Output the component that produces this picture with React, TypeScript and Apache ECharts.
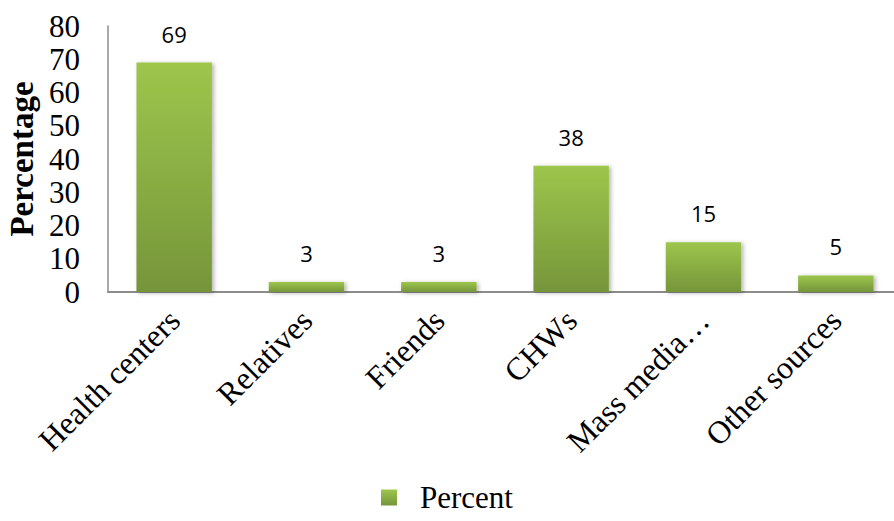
import React, { useEffect, useRef } from "react";
import * as echarts from "echarts";

const categories = [
  "Health centers",
  "Relatives",
  "Friends",
  "CHWs",
  "Mass media…",
  "Other sources",
];
const percentValues = [69, 3, 3, 38, 15, 5];
const yTicks = { min: 0, max: 80, interval: 10 };
const seriesName = "Percent";
const yAxisTitle = "Percentage";

const SERIF = "'Liberation Serif', 'Times New Roman', serif";
const SANS = "'Open Sans', 'Liberation Sans', sans-serif";

export default function App() {
  const ref = useRef<HTMLDivElement>(null);

  useEffect(() => {
    if (!ref.current) return;
    const chart = echarts.init(ref.current, undefined, { renderer: "svg" });

    const barFill = new echarts.graphic.LinearGradient(0, 0, 0, 1, [
      { offset: 0, color: "#9DC64C" },
      { offset: 1, color: "#76953A" },
    ]);

    chart.setOption({
      animation: false,
      backgroundColor: "#ffffff",
      grid: {
        left: 108,
        top: 26,
        width: 794,
        height: 266,
        containLabel: false,
        outerBoundsMode: "none",
      },
      legend: {
        data: [seriesName],
        bottom: 3,
        left: "center",
        icon: "rect",
        itemWidth: 16,
        itemHeight: 16,
        textStyle: {
          fontFamily: SERIF,
          fontSize: 31,
          color: "#000",
          padding: [0, 0, 0, 18],
        },
      },
      xAxis: {
        type: "category",
        data: categories,
        axisLine: { show: true, lineStyle: { color: "#8c8c8c", width: 2 } },
        axisTick: { show: false },
        axisLabel: {
          rotate: 45,
          interval: 0,
          margin: 23,
          fontFamily: SERIF,
          fontSize: 32,
          color: "#000",
        },
      },
      yAxis: {
        type: "value",
        min: yTicks.min,
        max: yTicks.max,
        interval: yTicks.interval,
        name: yAxisTitle,
        nameLocation: "middle",
        nameRotate: 90,
        nameGap: 70,
        nameTextStyle: {
          fontFamily: SERIF,
          fontSize: 33,
          fontWeight: "bold",
          color: "#000",
        },
        axisLine: { show: true, lineStyle: { color: "#8c8c8c", width: 1.5 } },
        axisTick: { show: false },
        splitLine: { show: false },
        axisLabel: {
          margin: 28,
          fontFamily: SERIF,
          fontSize: 31,
          color: "#000",
        },
      },
      series: [
        {
          name: seriesName,
          type: "bar",
          data: percentValues,
          barCategoryGap: "43%",
          itemStyle: {
            color: barFill,
            shadowColor: "rgba(0,0,0,0.3)",
            shadowBlur: 4,
            shadowOffsetX: 2,
            shadowOffsetY: 1,
          },
          label: {
            show: true,
            position: "top",
            distance: 18,
            fontFamily: SANS,
            fontSize: 22,
            color: "#000",
          },
        },
      ],
    });

    return () => chart.dispose();
  }, []);

  return (
    <div
      ref={ref}
      style={{ position: "fixed", left: 0, top: 0, width: 894, height: 521 }}
    />
  );
}
